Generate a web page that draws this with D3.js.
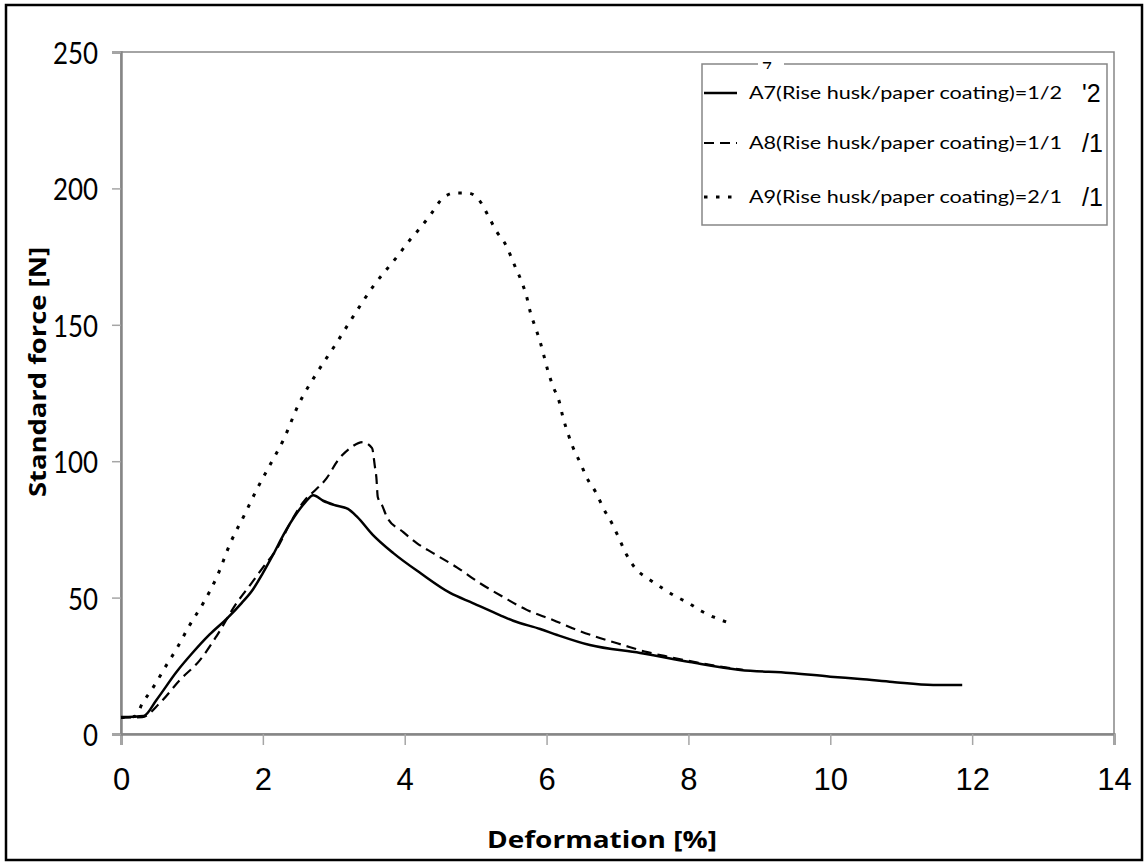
<!DOCTYPE html>
<html>
<head>
<meta charset="utf-8">
<script src="https://cdn.jsdelivr.net/npm/d3@7"></script>
<style>
  body { margin: 0; background: #fff; }
  svg { display: block; }
</style>
</head>
<body>
<svg id="chart" width="1147" height="865"></svg>
<script>
// deformation [%], standard force [N]
var a7 = [[0,6.2],[0.32,6.6],[0.5,12.5],[0.79,23],[1.0,29.5],[1.25,36.5],[1.5,42.5],[1.7,48],[1.86,53],
  [2.0,59],[2.15,66],[2.29,73],[2.48,81],[2.6,85],[2.71,87.5],[2.85,85.5],[3.0,84],[3.2,82.5],
  [3.33,79.6],[3.55,73],[3.84,66.3],[4.22,59],[4.64,51.7],[4.96,48],[5.34,43.6],[5.53,41.5],
  [5.91,38.5],[6.15,36.3],[6.61,32.6],[7.32,29.7],[8.02,26.4],[8.73,23.5],[9.43,22.4],[10.0,21],
  [10.42,20.2],[10.88,19.1],[11.45,18],[11.86,18]];
var a8 = [[0,6],[0.3,6.2],[0.55,11.4],[0.83,19.8],[1.11,27],[1.35,36],[1.63,48],[1.82,54.6],[2.0,61],
  [2.2,68],[2.4,78],[2.6,86],[2.71,88.7],[2.9,93.8],[3.06,100.4],[3.23,104.8],[3.41,107],[3.54,104.8],
  [3.58,97.9],[3.6,94.2],[3.62,86.9],[3.68,83.9],[3.75,79.5],[3.98,74],[4.17,70],[4.4,66.3],[4.74,61],
  [5.06,55.3],[5.39,50.2],[5.72,45.5],[6.09,41.8],[6.43,38.1],[6.75,35.2],[7.08,32.6],[7.42,30],
  [7.74,28.2],[8.4,24.9],[8.77,23.5]];
var a9 = [[0,6],[0.2,6.5],[0.31,11.7],[0.41,15.4],[0.5,19],[0.6,23.5],[0.79,31.5],[0.97,40],[1.16,48],
  [1.35,57.5],[1.55,70.5],[1.74,80.3],[1.91,89.4],[2.1,98.6],[2.29,107.8],[2.5,120.6],[2.76,132.3],
  [3.02,142.6],[3.27,152.9],[3.55,163.9],[3.89,174.9],[4.07,181],[4.17,184],[4.36,190.2],[4.54,196.5],
  [4.71,198.3],[4.89,198.3],[5.05,195.7],[5.2,188.8],[5.3,184],[5.41,180],[5.57,170.5],[5.65,165.7],
  [5.72,160.2],[5.77,154.7],[5.84,149.2],[5.91,143.7],[5.96,138.9],[6.02,133],[6.09,127.5],[6.18,121.7],
  [6.23,116.2],[6.3,110.3],[6.37,105.2],[6.47,99.7],[6.57,93.8],[6.7,88.3],[6.8,82.8],[6.92,77.3],
  [7.02,71.8],[7.13,65.6],[7.26,60.5],[7.44,56.8],[7.63,53.5],[7.81,50.6],[8.0,48],[8.18,45.1],
  [8.35,42.9],[8.54,41]];

var xTicks = [0, 2, 4, 6, 8, 10, 12, 14];
var yTicks = [0, 50, 100, 150, 200, 250];
var seriesNames = ["A7(Rise husk/paper coating)=1/2", "A8(Rise husk/paper coating)=1/1", "A9(Rise husk/paper coating)=2/1"];
var strayMarks = ["'2", "/1", "/1"];
var xTitle = "Deformation [%]";
var yTitle = "Standard force [N]";

var svg = d3.select("#chart");
var grey = "#868686";

// outer frame
svg.append("rect")
  .attr("x", 6).attr("y", 5).attr("width", 1136).attr("height", 855)
  .attr("fill", "white").attr("stroke", "black").attr("stroke-width", 2.5);

var x = d3.scaleLinear().domain([0, 14]).range([121, 1114]);
var y = d3.scaleLinear().domain([0, 250]).range([734, 52]);

// plot box (top and right)
svg.append("rect")
  .attr("x", x(0)).attr("y", y(250))
  .attr("width", x(14) - x(0)).attr("height", y(0) - y(250))
  .attr("fill", "none").attr("stroke", grey).attr("stroke-width", 1.5);

// x axis
var xAxis = svg.append("g")
  .attr("transform", "translate(0," + y(0) + ")")
  .call(d3.axisBottom(x).tickValues(xTicks).tickSize(11).tickPadding(23).tickFormat(d3.format("d")));
xAxis.select(".domain").attr("stroke", grey).attr("stroke-width", 2.5);
xAxis.selectAll(".tick line").attr("stroke", "#a6a6a6").attr("stroke-width", 1.5);
xAxis.selectAll(".tick text")
  .attr("font-family", "'Liberation Sans', Arial, sans-serif")
  .attr("font-size", 31).attr("fill", "black");

// y axis
var yAxis = svg.append("g")
  .attr("transform", "translate(" + x(0) + ",0)")
  .call(d3.axisLeft(y).tickValues(yTicks).tickSize(9).tickPadding(14).tickFormat(d3.format("d")));
yAxis.select(".domain").attr("stroke", grey).attr("stroke-width", 2.5);
yAxis.selectAll(".tick line").attr("stroke", "#a6a6a6").attr("stroke-width", 1.5);
yAxis.selectAll(".tick text")
  .attr("font-family", "Lato, 'Open Sans', sans-serif")
  .attr("font-size", 30).attr("fill", "black")
  .attr("dy", "0.38em")
  .attr("textLength", function(d) { return String(d).length * 15; })
  .attr("lengthAdjust", "spacingAndGlyphs");

// axis titles
svg.append("text")
  .attr("x", 602).attr("y", 848)
  .attr("text-anchor", "middle")
  .attr("font-family", "'Open Sans', sans-serif").attr("font-weight", 700)
  .attr("font-size", 24)
  .attr("textLength", 230).attr("lengthAdjust", "spacingAndGlyphs")
  .text(xTitle);

svg.append("text")
  .attr("transform", "translate(46,372) rotate(-90)")
  .attr("text-anchor", "middle")
  .attr("font-family", "'Open Sans', sans-serif").attr("font-weight", 700)
  .attr("font-size", 24)
  .attr("textLength", 250).attr("lengthAdjust", "spacingAndGlyphs")
  .text(yTitle);

// curves
var line = d3.line()
  .x(function(d) { return x(d[0]); })
  .y(function(d) { return y(d[1]); })
  .curve(d3.curveMonotoneX);
var styles = [
  { data: a7, dash: null, width: 2.5 },
  { data: a8, dash: "10,6", width: 2.2 },
  { data: a9, dash: "3.5,8.5", width: 3 }
];
styles.forEach(function(s) {
  svg.append("path")
    .datum(s.data)
    .attr("d", line)
    .attr("fill", "none")
    .attr("stroke", "black")
    .attr("stroke-width", s.width)
    .attr("stroke-dasharray", s.dash);
});

// legend
var lg = svg.append("g");
lg.append("rect")
  .attr("x", 702).attr("y", 64).attr("width", 405).attr("height", 161)
  .attr("fill", "white").attr("stroke", grey).attr("stroke-width", 1.5);
// break in the top border with a stray "7"
lg.append("rect").attr("x", 758).attr("y", 60).attr("width", 26).attr("height", 8).attr("fill", "white");
svg.append("clipPath").attr("id", "sevenclip")
  .append("rect").attr("x", 755).attr("y", 58).attr("width", 30).attr("height", 11);
lg.append("text")
  .attr("x", 762).attr("y", 75)
  .attr("clip-path", "url(#sevenclip)")
  .attr("font-family", "'Liberation Sans', Arial, sans-serif").attr("font-size", 18)
  .text("7");

var rowY = [93, 143, 197];
seriesNames.forEach(function(name, i) {
  lg.append("line")
    .attr("x1", 704).attr("x2", 737)
    .attr("y1", rowY[i]).attr("y2", rowY[i])
    .attr("stroke", "black")
    .attr("stroke-width", styles[i].width)
    .attr("stroke-dasharray", styles[i].dash);
  lg.append("text")
    .attr("x", 749).attr("y", rowY[i] + 6)
    .attr("font-family", "Lato, 'Open Sans', sans-serif").attr("font-size", 18)
    .attr("textLength", 313).attr("lengthAdjust", "spacingAndGlyphs")
    .text(name);
  lg.append("text")
    .attr("x", 1082).attr("y", rowY[i] + 9)
    .attr("font-family", "'Liberation Sans', Arial, sans-serif").attr("font-size", 25)
    .text(strayMarks[i]);
});
</script>
</body>
</html>
